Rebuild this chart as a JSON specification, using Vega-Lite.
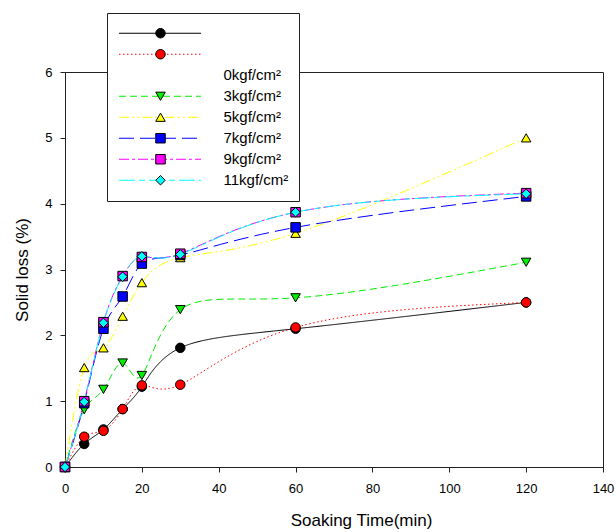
{
  "$schema": "https://vega.github.io/schema/vega-lite/v6.json",
  "width": 538,
  "height": 395,
  "autosize": {"type": "none"},
  "padding": {"left": 65, "top": 72, "right": 13, "bottom": 65},
  "background": "white",
  "config": {
    "font": "Liberation Sans",
    "view": {"stroke": "#222", "strokeWidth": 1},
    "axis": {
      "grid": false,
      "domainColor": "#222",
      "tickColor": "#222",
      "tickSize": 5,
      "labelColor": "black",
      "labelFont": "Liberation Sans",
      "labelFontSize": 13,
      "labelFlush": false,
      "labelOverlap": false,
      "titleFont": "Liberation Sans",
      "titleFontSize": 17,
      "titleFontWeight": "normal",
      "titleColor": "black"
    }
  },
  "data": {
    "values": [
      {"t": 0, "loss": 0, "series": "A"},
      {"t": 5, "loss": 0.35, "series": "A"},
      {"t": 10, "loss": 0.57, "series": "A"},
      {"t": 15, "loss": 0.88, "series": "A"},
      {"t": 20, "loss": 1.22, "series": "A"},
      {"t": 30, "loss": 1.81, "series": "A"},
      {"t": 60, "loss": 2.1, "series": "A"},
      {"t": 120, "loss": 2.5, "series": "A"},
      {"t": 0, "loss": 0, "series": "B"},
      {"t": 5, "loss": 0.46, "series": "B"},
      {"t": 10, "loss": 0.55, "series": "B"},
      {"t": 15, "loss": 0.88, "series": "B"},
      {"t": 20, "loss": 1.24, "series": "B"},
      {"t": 30, "loss": 1.25, "series": "B"},
      {"t": 60, "loss": 2.12, "series": "B"},
      {"t": 120, "loss": 2.5, "series": "B"},
      {"t": 0, "loss": 0, "series": "3kgf/cm²"},
      {"t": 5, "loss": 0.87, "series": "3kgf/cm²"},
      {"t": 10, "loss": 1.18, "series": "3kgf/cm²"},
      {"t": 15, "loss": 1.58, "series": "3kgf/cm²"},
      {"t": 20, "loss": 1.39, "series": "3kgf/cm²"},
      {"t": 30, "loss": 2.39, "series": "3kgf/cm²"},
      {"t": 60, "loss": 2.57, "series": "3kgf/cm²"},
      {"t": 120, "loss": 3.11, "series": "3kgf/cm²"},
      {"t": 0, "loss": 0, "series": "5kgf/cm²"},
      {"t": 5, "loss": 1.51, "series": "5kgf/cm²"},
      {"t": 10, "loss": 1.81, "series": "5kgf/cm²"},
      {"t": 15, "loss": 2.29, "series": "5kgf/cm²"},
      {"t": 20, "loss": 2.8, "series": "5kgf/cm²"},
      {"t": 30, "loss": 3.18, "series": "5kgf/cm²"},
      {"t": 60, "loss": 3.55, "series": "5kgf/cm²"},
      {"t": 120, "loss": 5.0, "series": "5kgf/cm²"},
      {"t": 0, "loss": 0, "series": "7kgf/cm²"},
      {"t": 5, "loss": 0.97, "series": "7kgf/cm²"},
      {"t": 10, "loss": 2.1, "series": "7kgf/cm²"},
      {"t": 15, "loss": 2.59, "series": "7kgf/cm²"},
      {"t": 20, "loss": 3.09, "series": "7kgf/cm²"},
      {"t": 30, "loss": 3.22, "series": "7kgf/cm²"},
      {"t": 60, "loss": 3.64, "series": "7kgf/cm²"},
      {"t": 120, "loss": 4.11, "series": "7kgf/cm²"},
      {"t": 0, "loss": 0, "series": "9kgf/cm²"},
      {"t": 5, "loss": 1.0, "series": "9kgf/cm²"},
      {"t": 10, "loss": 2.2, "series": "9kgf/cm²"},
      {"t": 15, "loss": 2.9, "series": "9kgf/cm²"},
      {"t": 20, "loss": 3.19, "series": "9kgf/cm²"},
      {"t": 30, "loss": 3.24, "series": "9kgf/cm²"},
      {"t": 60, "loss": 3.87, "series": "9kgf/cm²"},
      {"t": 120, "loss": 4.16, "series": "9kgf/cm²"},
      {"t": 0, "loss": 0, "series": "11kgf/cm²"},
      {"t": 5, "loss": 0.99, "series": "11kgf/cm²"},
      {"t": 10, "loss": 2.19, "series": "11kgf/cm²"},
      {"t": 15, "loss": 2.89, "series": "11kgf/cm²"},
      {"t": 20, "loss": 3.2, "series": "11kgf/cm²"},
      {"t": 30, "loss": 3.23, "series": "11kgf/cm²"},
      {"t": 60, "loss": 3.87, "series": "11kgf/cm²"},
      {"t": 120, "loss": 4.15, "series": "11kgf/cm²"}
    ]
  },
  "encoding": {
    "x": {
      "field": "t",
      "type": "quantitative",
      "scale": {"domain": [0, 140], "nice": false, "zero": false},
      "axis": {
        "values": [0, 20, 40, 60, 80, 100, 120, 140],
        "title": "Soaking Time(min)",
        "labelPadding": 10,
        "titlePadding": 17,
        "titleX": 296
      }
    },
    "y": {
      "field": "loss",
      "type": "quantitative",
      "scale": {"domain": [0, 6], "nice": false},
      "axis": {
        "values": [0, 1, 2, 3, 4, 5, 6],
        "title": "Solid loss (%)",
        "labelPadding": 8,
        "titlePadding": 13
      }
    }
  },
  "layer": [
    {
      "mark": {"type": "line", "interpolate": "natural", "strokeWidth": 1},
      "encoding": {
        "color": {
          "field": "series",
          "type": "nominal",
          "scale": {
            "domain": ["A", "B", "0kgf/cm²", "3kgf/cm²", "5kgf/cm²", "7kgf/cm²", "9kgf/cm²", "11kgf/cm²"],
            "range": ["#000000", "#ff0000", "transparent", "#00ee00", "#ffff00", "#0000ff", "#ff00ff", "#00ffff"]
          },
          "legend": {
            "orient": "none", "legendX": 42, "legendY": -59, "zindex": 1,
            "title": null, "padding": 10, "strokeColor": "#222", "fillColor": "white",
            "symbolType": "stroke", "symbolSize": 6724, "symbolStrokeWidth": 1,
            "symbolOffset": 1.5, "labelOffset": 22, "labelFontSize": 15,
            "labelFont": "Liberation Sans", "labelColor": "black",
            "clipHeight": 20.5, "rowPadding": 0,
            "labelExpr": "datum.label == 'A' || datum.label == 'B' ? '' : datum.label"
          }
        },
        "strokeDash": {
          "field": "series",
          "type": "nominal",
          "scale": {
            "domain": ["A", "B", "0kgf/cm²", "3kgf/cm²", "5kgf/cm²", "7kgf/cm²", "9kgf/cm²", "11kgf/cm²"],
            "range": [[1, 0], [1.5, 2.5], [1, 0], [7, 4], [10, 3, 2, 3, 2, 3], [15, 6], [10, 3, 3, 3], [16, 4, 6, 4]]
          },
          "legend": {
            "orient": "none", "legendX": 42, "legendY": -59, "zindex": 1,
            "title": null, "padding": 10, "strokeColor": "#222", "fillColor": "white",
            "symbolType": "stroke", "symbolSize": 6724, "symbolStrokeWidth": 1,
            "symbolOffset": 1.5, "labelOffset": 22, "labelFontSize": 15,
            "labelFont": "Liberation Sans", "labelColor": "black",
            "clipHeight": 20.5, "rowPadding": 0,
            "labelExpr": "datum.label == 'A' || datum.label == 'B' ? '' : datum.label"
          }
        }
      }
    },
    {
      "mark": {"type": "point", "filled": true, "strokeWidth": 1, "size": 90, "opacity": 1},
      "encoding": {
        "shape": {
          "field": "series",
          "type": "nominal",
          "scale": {
            "domain": ["A", "B", "-", "3kgf/cm²", "5kgf/cm²", "7kgf/cm²", "9kgf/cm²", "11kgf/cm²"],
            "range": ["circle", "circle", "M0,0L0,0", "triangle-down", "triangle-up", "square", "square", "diamond"]
          },
          "legend": {
            "orient": "none", "legendX": 42, "legendY": -59, "zindex": 2,
            "title": null, "padding": 10, "symbolSize": 90, "symbolStrokeWidth": 1,
            "symbolOffset": 38, "clipHeight": 20.5, "rowPadding": 0,
            "labelExpr": "''"
          }
        },
        "fill": {
          "field": "series",
          "type": "nominal",
          "scale": {
            "domain": ["A", "B", "-", "3kgf/cm²", "5kgf/cm²", "7kgf/cm²", "9kgf/cm²", "11kgf/cm²"],
            "range": ["#000000", "#ff0000", "transparent", "#00ee00", "#ffff00", "#0000ff", "#ff00ff", "#00ffff"]
          },
          "legend": {
            "orient": "none", "legendX": 42, "legendY": -59, "zindex": 2,
            "title": null, "padding": 10, "symbolSize": 90, "symbolStrokeWidth": 1,
            "symbolOffset": 38, "clipHeight": 20.5, "rowPadding": 0,
            "labelExpr": "''"
          }
        },
        "stroke": {
          "field": "series",
          "type": "nominal",
          "scale": {
            "domain": ["A", "B", "-", "3kgf/cm²", "5kgf/cm²", "7kgf/cm²", "9kgf/cm²", "11kgf/cm²"],
            "range": ["#000000", "#000000", "#000000", "#000000", "#000000", "#000000", "#000000", "#000000"]
          },
          "legend": {
            "orient": "none", "legendX": 42, "legendY": -59, "zindex": 2,
            "title": null, "padding": 10, "symbolSize": 90, "symbolStrokeWidth": 1,
            "symbolOffset": 38, "clipHeight": 20.5, "rowPadding": 0,
            "labelExpr": "''"
          }
        }
      }
    }
  ]
}
